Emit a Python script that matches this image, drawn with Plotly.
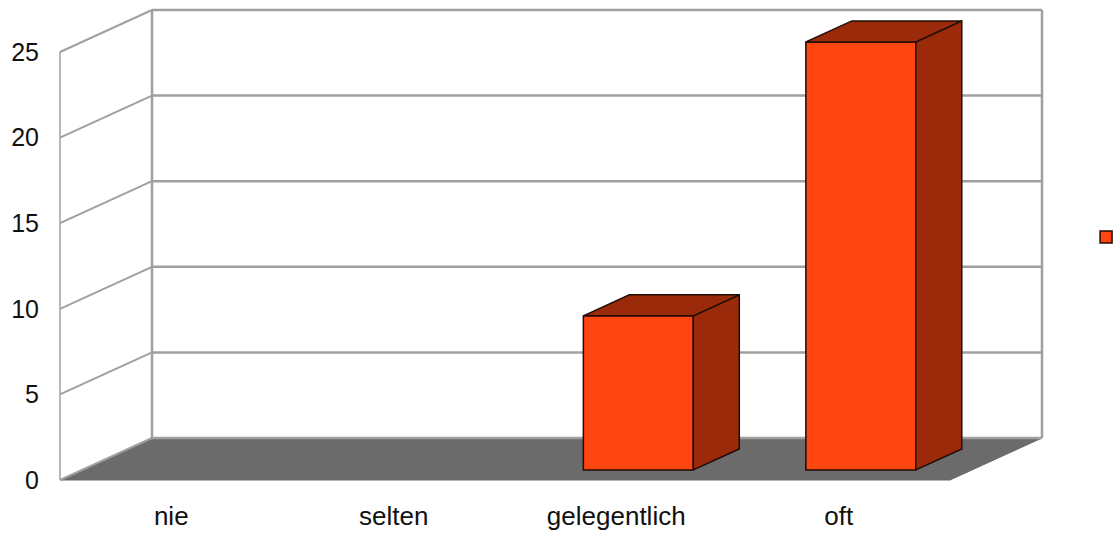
import plotly.graph_objects as go

# ---- data ----
categories = ["nie", "selten", "gelegentlich", "oft"]
values = [0, 0, 9, 25]
y_ticks = [0, 5, 10, 15, 20, 25]
series_name = ""

# ---- style / geometry ----
FRONT = "#ff4611"
DARK = "#9a2a0a"
EDGE = "#1f0c05"
FLOOR = "#6b6b6b"
GRID = "#a0a0a0"
FONT = "Liberation Sans, Arial, sans-serif"

DX, DY = 0.4135, 2.453      # oblique depth offset (data units)
BAR_W = 0.494
Z0, Z1 = 0.24, 0.74          # bar depth span (fraction of floor depth)
n = len(categories)
xl, xr = -0.5, n - 0.5
ymax = max(y_ticks)

def proj(x, y, z):
    return x + z * DX, y + z * DY

shapes = []

# floor
fl = [proj(xl, 0, 0), proj(xr, 0, 0), proj(xr, 0, 1), proj(xl, 0, 1)]
path = "M " + " L ".join(f"{p[0]},{p[1]}" for p in fl) + " Z"
shapes.append(dict(type="path", path=path, xref="x", yref="y", layer="below",
                   fillcolor=FLOOR, line=dict(color=FLOOR, width=1)))

def seg(p, q, color, width):
    shapes.append(dict(type="line", xref="x", yref="y", layer="below",
                       x0=p[0], y0=p[1], x1=q[0], y1=q[1],
                       line=dict(color=color, width=width)))

# back wall grid lines + verticals
for v in y_ticks:
    seg(proj(xl, v, 1), proj(xr, v, 1), GRID, 2.5)
for xx in (xl, xr):
    seg(proj(xx, 0, 1), proj(xx, ymax, 1), GRID, 2.5)
# left wall lines
for v in y_ticks:
    seg(proj(xl, v, 0), proj(xl, v, 1), GRID, 2)
seg(proj(xl, 0, 0), proj(xl, ymax, 0), GRID, 1.5)

fig = go.Figure()

# bars: front faces (real bar trace, shifted to the bar's front depth)
ox, oy = proj(0, 0, Z0)
fig.add_trace(go.Bar(x=[i + ox for i in range(n)],
                     y=[v if v > 0 else None for v in values],
                     base=[oy] * n, width=BAR_W,
                     marker=dict(color=FRONT, line=dict(color=EDGE, width=1.5)),
                     name=series_name, showlegend=True, hoverinfo="skip"))

# bars: side + top faces
for i, v in enumerate(values):
    if v <= 0:
        continue
    a, b = i - BAR_W / 2, i + BAR_W / 2
    side = [proj(b, 0, Z0), proj(b, 0, Z1), proj(b, v, Z1), proj(b, v, Z0), proj(b, 0, Z0)]
    top = [proj(a, v, Z0), proj(b, v, Z0), proj(b, v, Z1), proj(a, v, Z1), proj(a, v, Z0)]
    for poly in (side, top):
        px, py = zip(*poly)
        fig.add_trace(go.Scatter(x=px, y=py, fill="toself", fillcolor=DARK, mode="lines",
                                 line=dict(color=EDGE, width=1.5), showlegend=False,
                                 hoverinfo="skip"))

PXX, PXY = 222.5, 17.12
fig.update_layout(
    width=1113, height=534,
    margin=dict(l=50, r=61, t=5, b=50, autoexpand=False),
    paper_bgcolor="white", plot_bgcolor="white",
    font=dict(family=FONT, size=26, color="#111111"),
    shapes=shapes,
    xaxis=dict(range=[xl - 10 / PXX, xl + 992 / PXX], tickvals=list(range(n)),
               ticktext=categories, showgrid=False, zeroline=False, showline=False,
               ticks="", ticklabelstandoff=14, tickfont=dict(size=26), automargin=False),
    yaxis=dict(range=[-4 / PXY, 475 / PXY], tickvals=y_ticks, showgrid=False,
               zeroline=False, showline=False, ticks="", ticklabelstandoff=10,
               tickfont=dict(size=25), automargin=False),
    legend=dict(x=1.034, xanchor="left", y=0.5146, yanchor="middle",
                bgcolor="rgba(0,0,0,0)", font=dict(size=14)),
    barmode="overlay",
    showlegend=True,
)

fig.write_html("out.html",
               config={"displayModeBar": False, "staticPlot": True},
               post_script="document.body.style.margin='0';"
                           "document.body.style.overflow='hidden';")
